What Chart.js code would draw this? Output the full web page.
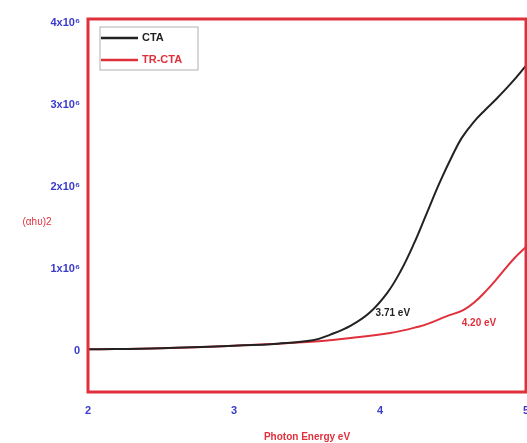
<!DOCTYPE html>
<html>
<head>
<meta charset="utf-8">
<script src="https://cdn.jsdelivr.net/npm/chart.js@4"></script>
<style>
  html, body { margin: 0; padding: 0; background: #fff; }
  #wrap { width: 527px; height: 443px; }
</style>
</head>
<body>
<div id="wrap"><canvas id="chart1"></canvas></div>
<script>
// values (y in units of (alpha h nu)^2)
var ctaEnergy = [2.0, 2.5, 3.0, 3.3, 3.54, 3.66, 3.8, 3.93, 4.05, 4.14, 4.23, 4.32, 4.41, 4.5, 4.56, 4.64, 4.72, 4.8, 4.9, 5.0];
var ctaValues = [0.02e6, 0.035e6, 0.065e6, 0.09e6, 0.13e6, 0.20e6, 0.31e6, 0.47e6, 0.71e6, 0.97e6, 1.30e6, 1.68e6, 2.06e6, 2.40e6, 2.60e6, 2.79e6, 2.94e6, 3.08e6, 3.27e6, 3.48e6];

var trEnergy = [2.0, 2.5, 3.0, 3.5, 3.8, 4.07, 4.27, 4.34, 4.45, 4.57, 4.65, 4.73, 4.8, 4.87, 4.93, 5.0];
var trValues = [0.02e6, 0.035e6, 0.065e6, 0.11e6, 0.16e6, 0.22e6, 0.30e6, 0.34e6, 0.42e6, 0.50e6, 0.60e6, 0.74e6, 0.88e6, 1.03e6, 1.15e6, 1.27e6];

var xTicks = [2, 3, 4, 5];
var yTicks = [0, 1e6, 2e6, 3e6, 4e6];
var yTickLabels = ['0', '1x10\u2076', '2x10\u2076', '3x10\u2076', '4x10\u2076'];

var seriesNames = ['CTA', 'TR-CTA'];
var gapLabels = [
    { text: '3.71 eV', x: 3.97, y: 0.46e6, color: '#222222' },
    { text: '4.20 eV', x: 4.56, y: 0.34e6, color: '#e0303c' }
];

function toPoints(xs, ys) {
    var pts = [];
    for (var i = 0; i < xs.length; i++) {
        pts.push({ x: xs[i], y: ys[i] });
    }
    return pts;
}

var RED = '#e0303c';
var BLUE = '#3a3acc';

// red frame, legend box, annotations and the horizontal y title
var framePlugin = {
    id: 'frame',
    afterDraw: function (chart) {
        var ctx = chart.ctx;
        var a = chart.chartArea;
        ctx.save();
        ctx.strokeStyle = RED;
        ctx.lineWidth = 3;
        ctx.strokeRect(a.left, a.top, a.right - a.left, a.bottom - a.top);

        // legend
        var lx = a.left + 12, ly = a.top + 8;
        ctx.lineWidth = 1;
        ctx.strokeStyle = '#b0b0b0';
        ctx.strokeRect(lx, ly, 98, 43);
        ctx.font = 'bold 11px Arial';
        ctx.textBaseline = 'middle';
        ctx.textAlign = 'left';
        chart.data.datasets.forEach(function (ds, i) {
            var yy = ly + 11 + i * 22;
            ctx.strokeStyle = ds.borderColor;
            ctx.lineWidth = 2.5;
            ctx.beginPath();
            ctx.moveTo(lx + 1, yy);
            ctx.lineTo(lx + 38, yy);
            ctx.stroke();
            ctx.fillStyle = ds.borderColor;
            ctx.fillText(ds.label, lx + 42, yy);
        });

        // band gap labels
        var xs = chart.scales.x, ys = chart.scales.y;
        ctx.font = 'bold 10px Arial';
        gapLabels.forEach(function (g) {
            ctx.fillStyle = g.color;
            ctx.fillText(g.text, xs.getPixelForValue(g.x), ys.getPixelForValue(g.y));
        });

        // y title, written horizontally
        ctx.fillStyle = RED;
        ctx.font = '10px Arial';
        ctx.textAlign = 'center';
        ctx.fillText('(\u03b1h\u03c5)2', 37, (a.top + a.bottom) / 2 + 17);
        ctx.restore();
    }
};

const CHART1 = document.getElementById('chart1');
let taucChart = new Chart(CHART1, {
    type: 'line',
    data: {
        datasets: [
            {
                label: seriesNames[0],
                borderColor: '#222222',
                backgroundColor: '#222222',
                borderWidth: 2,
                pointRadius: 0,
                tension: 0.4,
                data: toPoints(ctaEnergy, ctaValues)
            },
            {
                label: seriesNames[1],
                borderColor: RED,
                backgroundColor: RED,
                borderWidth: 2,
                pointRadius: 0,
                tension: 0.4,
                data: toPoints(trEnergy, trValues)
            }
        ]
    },
    options: {
        responsive: true,
        maintainAspectRatio: false,
        animation: false,
        layout: { padding: { left: 0, right: 1, top: 19, bottom: 0 } },
        plugins: {
            legend: { display: false },
            tooltip: { enabled: false }
        },
        scales: {
            x: {
                type: 'linear',
                min: 2,
                max: 5,
                grid: { display: false, drawTicks: false },
                border: { display: false },
                afterBuildTicks: function (scale) {
                    scale.ticks = xTicks.map(function (v) { return { value: v }; });
                },
                afterFit: function (scale) {
                    scale.height = 51;
                    scale.paddingLeft = 0;
                    scale.paddingRight = 0;
                },
                ticks: {
                    color: BLUE,
                    font: { family: 'Arial', size: 11, weight: 'bold' },
                    padding: 12,
                    maxRotation: 0
                },
                title: {
                    display: true,
                    text: 'Photon Energy eV',
                    color: RED,
                    font: { family: 'Arial', size: 10, weight: 'bold' },
                    padding: { top: 4, bottom: 0 }
                }
            },
            y: {
                min: -0.5e6,
                max: 4.05e6,
                grid: { display: false, drawTicks: false },
                border: { display: false },
                afterBuildTicks: function (scale) {
                    scale.ticks = yTicks.map(function (v) { return { value: v }; });
                },
                afterFit: function (scale) {
                    scale.width = 88;
                    scale.paddingTop = 0;
                    scale.paddingBottom = 0;
                },
                ticks: {
                    color: BLUE,
                    font: { family: 'Arial', size: 11, weight: 'bold' },
                    padding: 8,
                    callback: function (value) {
                        var idx = yTicks.indexOf(value);
                        return idx >= 0 ? yTickLabels[idx] : '';
                    }
                }
            }
        }
    },
    plugins: [framePlugin]
});
</script>
</body>
</html>
